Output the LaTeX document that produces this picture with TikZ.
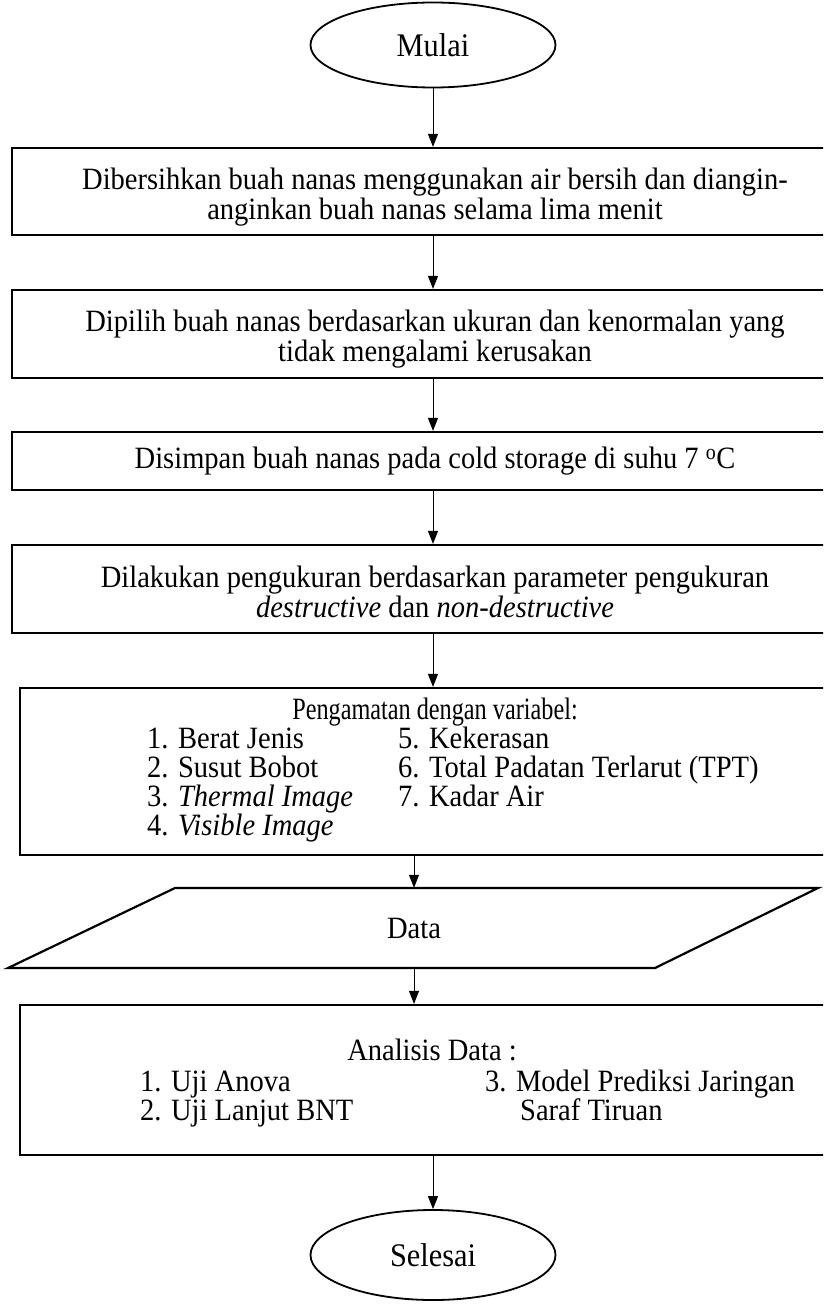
\documentclass[tikz,border=0pt]{standalone}
\usepackage{fontspec}
\setmainfont[FakeStretch=0.92]{Liberation Serif}
\usetikzlibrary{shapes.geometric,arrows.meta}
\begin{document}
\begin{tikzpicture}[x=1pt,y=-1pt,
  every node/.style={font=\fontsize{31}{30}\selectfont, inner sep=0pt},
  procbox/.style={draw, line width=2.2pt, rectangle, minimum width=846pt, align=center},
  termin/.style={draw, line width=1.8pt, ellipse, minimum width=245pt, minimum height=85pt, font=\fontsize{33}{33}\selectfont},
  item/.style={anchor=base west},
  arr/.style={line width=1pt, -{Triangle[length=13pt,width=10pt]}}
]
\useasboundingbox (0,0) rectangle (823,1308);
\clip (0,0) rectangle (823,1308);
\fill[white] (0,0) rectangle (823,1308);

\node[termin] (mulai) at (433,45) {Mulai};
\node[procbox, minimum height=87pt] (b1) at (435,191.5) {};
\node[align=center] (t1) at (435,197) {Dibersihkan buah nanas menggunakan air bersih dan diangin-\\anginkan buah nanas selama lima menit};
\node[procbox, minimum height=88pt] (b2) at (435,334) {};
\node[align=center] (t2) at (435,339) {Dipilih buah nanas berdasarkan ukuran dan kenormalan yang\\tidak mengalami kerusakan};
\node[procbox, minimum height=58pt] (b3) at (435,461) {Disimpan buah nanas pada cold storage di suhu 7 \textsuperscript{o}C};
\node[procbox, minimum height=88pt] (b4) at (435,589) {};
\node[align=center] (t4) at (435,592) {Dilakukan pengukuran berdasarkan parameter pengukuran\\\textit{destructive} dan \textit{non-destructive}};

\node[draw, line width=2.2pt, rectangle, minimum width=830pt, minimum height=167pt] (b5) at (435,771.5) {};
\node[anchor=base] (b5h) at (435,719) {\scalebox{0.85}[1]{Pengamatan dengan variabel:}};
\node[item] (v1) at (147,748) {1. Berat Jenis};
\node[item] (v2) at (147,777) {2. Susut Bobot};
\node[item] (v3) at (147,806) {3. \textit{Thermal Image}};
\node[item] (v4) at (147,835) {4. \textit{Visible Image}};
\node[item] (v5) at (398,748) {5. Kekerasan};
\node[item] (v6) at (398,777) {6. Total Padatan Terlarut (TPT)};
\node[item] (v7) at (398,806) {7. Kadar Air};

\node[minimum width=480pt, minimum height=80pt] (data) at (414,928) {Data};
\draw[line width=2.2pt, line join=miter] (175,888) -- (818,888) -- (655,968) -- (8,968) -- cycle;

\node[draw, line width=2.2pt, rectangle, minimum width=830pt, minimum height=150pt] (b6) at (435,1080) {};
\node[anchor=base] (b6h) at (432,1060) {Analisis Data :};
\node[item] (a1) at (140,1091) {1. Uji Anova};
\node[item] (a2) at (140,1120) {2. Uji Lanjut BNT};
\node[item] (a3) at (485,1091) {3. Model Prediksi Jaringan};
\node[item] (a4) at (520,1120) {Saraf Tiruan};

\node[termin, minimum height=90pt] (selesai) at (433,1255) {Selesai};

\draw[arr] (mulai.south) -- (mulai.south |- b1.north);
\draw[arr] (b1.south -| mulai) -- (b2.north -| mulai);
\draw[arr] (b2.south -| mulai) -- (b3.north -| mulai);
\draw[arr] (b3.south -| mulai) -- (b4.north -| mulai);
\draw[arr] (b4.south -| mulai) -- (b5.north -| mulai);
\draw[arr] (b5.south -| data) -- (data.north);
\draw[arr] (data.south) -- (b6.north -| data);
\draw[arr] (b6.south -| selesai) -- (selesai.north);
\end{tikzpicture}
\end{document}
